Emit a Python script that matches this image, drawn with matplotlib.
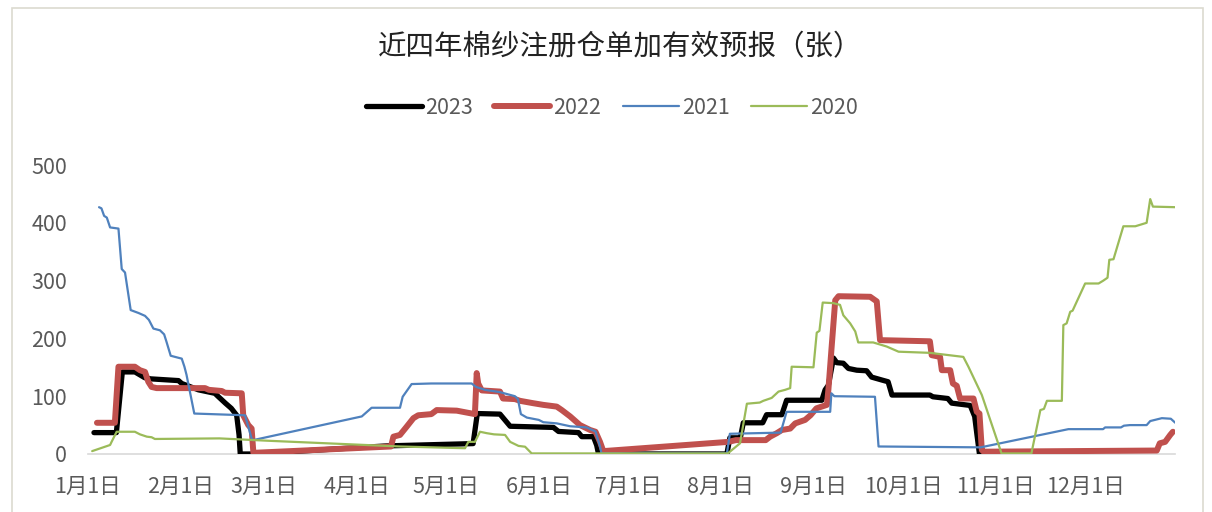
import matplotlib
matplotlib.use("Agg")
import matplotlib.pyplot as plt
from matplotlib.patches import Rectangle

plt.rcParams['font.family'] = ['Noto Sans CJK SC', 'DejaVu Sans']

title = "近四年棉纱注册仓单加有效预报（张）"
month_days = [0, 31, 59, 90, 120, 151, 181, 212, 243, 273, 304, 334]
month_labels = ["1月1日", "2月1日", "3月1日", "4月1日", "5月1日", "6月1日",
                "7月1日", "8月1日", "9月1日", "10月1日", "11月1日", "12月1日"]
y_ticks = [0, 100, 200, 300, 400, 500]

# (day of year, value)
s2023 = [(2, 37), (9.5, 37), (11.5, 142), (15.7, 142), (19, 132), (21, 130), (30.3, 127),
         (31.4, 122), (37, 111), (42.5, 105), (43.5, 100), (46, 88), (48, 79), (49.8, 67),
         (50.6, 33), (51, 0), (55, 0), (100, 14), (129, 18), (130.4, 70), (138, 69),
         (141.4, 48), (155.9, 46), (157.6, 39), (164.3, 37), (165.4, 30), (169.3, 30),
         (170.4, 15), (171, 0), (214, 0), (215, 28), (218.5, 28), (219.5, 54), (226, 54),
         (227.3, 68), (232.4, 68), (234, 93), (245.8, 93), (246.9, 111), (248, 119),
         (249.7, 166), (250.8, 158), (253, 157), (254.7, 148), (257.5, 145), (260.8, 144),
         (262.5, 133), (265.9, 128), (268, 125), (269.3, 102), (282, 102), (283, 99),
         (288, 96), (289.3, 88), (295.5, 84), (297, 65), (297.7, 36), (298.6, 0), (305, 0)]

s2022 = [(3, 54), (9, 54), (10.2, 151), (15.7, 151), (17.4, 145), (19.1, 142), (20.2, 125),
         (21.3, 116), (23, 114), (39.2, 114), (40.5, 111), (44.8, 109), (45.9, 106),
         (51.5, 105), (52, 67), (53.7, 50), (54.8, 44), (55.4, 2), (101.5, 13), (102.3, 30),
         (104.5, 33), (106.7, 47), (109, 62), (110.6, 67), (115, 69), (116.8, 76),
         (123.5, 75), (129.6, 69), (130.2, 140), (130.7, 122), (131.9, 110), (138, 108),
         (139, 96), (143, 95), (144.7, 92), (149, 88), (152.5, 85), (157, 82), (158.7, 76),
         (161.5, 65), (164.8, 50), (168.2, 41.5), (170, 38.5), (171.5, 21), (172.6, 5),
         (214.5, 21), (217, 24), (227, 24), (228.5, 30), (230.7, 36), (232.4, 41.5),
         (235.2, 44), (236.9, 53), (240.2, 59), (242, 67), (244, 79), (247.5, 85),
         (248, 111), (249.1, 186), (250.3, 266), (251.4, 273), (262, 272), (264.2, 264),
         (265.3, 197), (282, 195), (282.6, 171), (285.4, 168), (286, 145), (288.8, 145),
         (289.7, 122), (291, 118), (292.1, 96), (296.6, 96), (297.7, 73), (298.6, 70),
         (299.4, 7), (300, 4), (358, 6), (359, 18.5), (360.8, 21), (362.5, 33), (363.4, 38.5)]

s2021 = [(3.7, 427), (4.5, 425), (5.4, 412), (6.3, 409), (7.4, 392), (10.2, 390), (11.3, 320),
         (12.4, 314), (14.3, 249), (16.9, 244), (19.1, 239), (20.4, 232), (21.9, 217),
         (24.1, 214), (25.5, 207), (26.3, 194), (27.7, 170), (29.9, 167), (31.4, 165),
         (32.3, 151), (33, 137), (35.6, 70), (52.6, 67), (54.8, 27), (55.3, 24), (91.7, 65),
         (95, 80), (104.5, 80), (105.4, 99), (108.4, 121), (115, 122), (128.5, 122),
         (130, 116), (133, 111), (138, 107), (143, 100), (144, 95), (145, 69), (147, 63),
         (151, 59), (152.5, 55), (157, 53), (161.5, 48), (167, 46), (170, 39), (171.5, 13),
         (172, 1), (214, 1), (215, 35), (232, 37), (234, 73), (248.6, 73), (249, 105),
         (250, 100), (263.6, 99), (264.8, 13), (299, 11.5), (328.4, 43), (340, 43),
         (340.7, 46), (346, 46), (347, 49), (349, 50), (354.6, 50), (355.8, 57),
         (359.7, 62), (362.7, 61), (364.2, 54)]

s2020 = [(1.4, 5), (7.4, 15.6), (7.9, 21), (9.6, 38.5), (15.7, 38.5), (17.4, 34), (19.7, 30),
         (21.3, 29), (22.4, 26), (44, 27), (60, 23), (104.5, 13), (126.3, 10), (127.4, 21),
         (129.6, 21), (131.3, 38.5), (133.6, 36), (136, 34), (139.7, 33), (141.4, 21),
         (144.2, 14), (146.4, 12.6), (148.6, 1), (214.3, 1), (218.4, 18.5), (220.7, 87),
         (225, 89), (226.2, 92), (229, 97), (231.3, 108), (233.5, 111), (235.2, 114),
         (235.7, 151), (243, 150), (244.1, 210), (245, 213), (246.1, 262), (249.7, 261),
         (251.9, 258), (253, 240), (255.3, 226), (257, 212), (258, 193), (263, 193),
         (267.5, 186), (271.5, 177), (282, 175), (293.2, 168), (294.9, 151), (299.4, 102),
         (306, 1), (316, 1), (319, 76), (320.2, 78), (321.2, 92), (326.2, 92), (326.7, 223),
         (327.8, 226), (329, 246), (329.8, 248), (334, 295), (338.5, 295), (340.1, 300),
         (341.5, 305), (342.1, 336), (343.5, 337), (346.8, 394), (350.8, 394), (354.6, 400),
         (355.8, 441), (356.7, 428), (364.2, 427)]

series = [("2023", s2023, "#000000", 3.8),
          ("2022", s2022, "#C0504D", 4.3),
          ("2021", s2021, "#4F81BD", 1.6),
          ("2020", s2020, "#9BBB59", 1.6)]

fig = plt.figure(figsize=(12.12, 5.12), dpi=100)
fig.patch.set_facecolor("white")
fig.add_artist(Rectangle((12 / 1212, -0.01), (1203 - 12) / 1212, (512 - 8) / 512 + 0.01,
                         transform=fig.transFigure, fill=False, edgecolor="#DCDAD0", lw=1.2))

ax = fig.add_axes([88 / 1212, 58 / 512, 1087 / 1212, 289 / 512])
handles = []
for i, (name, data, color, lw) in enumerate(series):
    xs = [p[0] for p in data]
    ys = [p[1] for p in data]
    ln, = ax.plot(xs, ys, color=color, lw=lw, solid_capstyle="round",
                  solid_joinstyle="round", zorder=3 + i, label=name)
    handles.append(ln)

ax.set_xlim(0, 364.1)
ax.set_ylim(0, 500)
ax.set_xticks(month_days)
ax.set_xticklabels(month_labels)
ax.set_yticks(y_ticks)
for s in ["left", "right", "top"]:
    ax.spines[s].set_visible(False)
ax.spines["bottom"].set_color("#D9D9D9")
ax.spines["bottom"].set_linewidth(1.2)
ax.spines["bottom"].set_zorder(1)
ax.tick_params(axis="both", length=0, labelsize=15.5, labelcolor="#595959")
ax.tick_params(axis="y", pad=15)
ax.tick_params(axis="x", pad=16)

fig.text(620 / 1212, 1 - 47 / 512, title, ha="center", va="center", fontsize=20.5,
         color="#222222")
fig.legend(handles=handles, loc="center", bbox_to_anchor=(612 / 1212, 1 - 108 / 512),
           ncol=4, frameon=False, fontsize=15.5, handlelength=2.6, handletextpad=0.15,
           columnspacing=1.0, labelcolor="#595959")

fig.savefig("out.png", dpi=100)
